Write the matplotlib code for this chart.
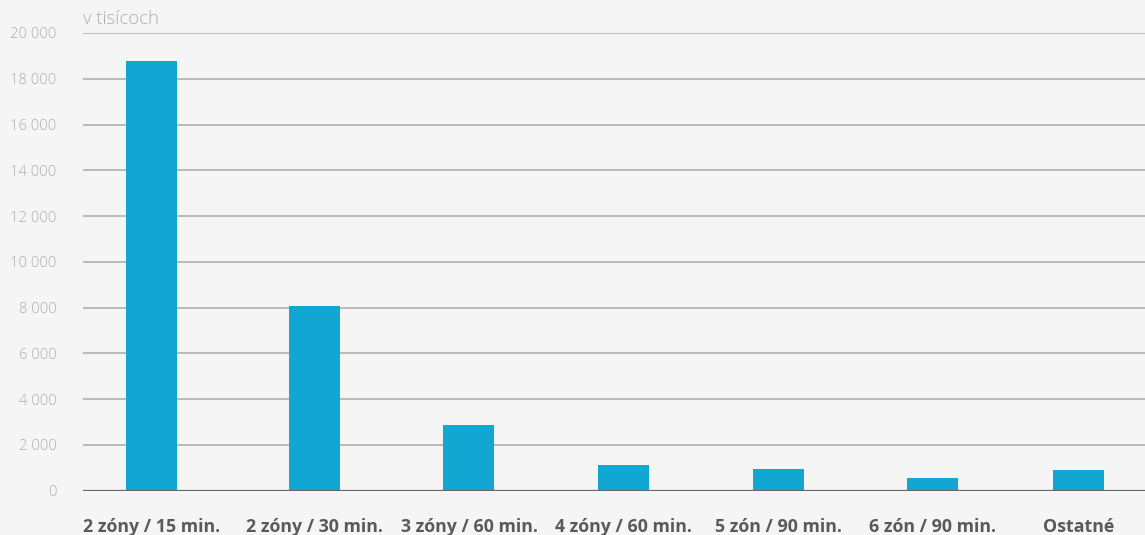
import matplotlib
matplotlib.use("Agg")
import matplotlib.pyplot as plt

categories = ["2 zóny / 15 min.", "2 zóny / 30 min.", "3 zóny / 60 min.",
              "4 zóny / 60 min.", "5 zón / 90 min.", "6 zón / 90 min.", "Ostatné"]
values = [18760, 8060, 2870, 1120, 950, 560, 910]
yticks = [0, 2000, 4000, 6000, 8000, 10000, 12000, 14000, 16000, 18000, 20000]
ytick_labels = ["0", "2 000", "4 000", "6 000", "8 000", "10 000", "12 000",
                "14 000", "16 000", "18 000", "20 000"]
unit_label = "v tisícoch"

# layout: slot positions of the categories along the x axis
slots = [0, 1.055, 2.055, 3.057, 4.055, 5.052, 6.0]

BG = "#f4f5f4"
BAR = "#12a7d2"

plt.rcParams['font.family'] = ['Open Sans', 'DejaVu Sans']

fig = plt.figure(figsize=(11.45, 5.35), dpi=100, facecolor=BG)
ax = fig.add_axes([83/1145, 1 - 490.7/535, 1 - 83/1145, (490.7 - 33)/535])
ax.set_facecolor(BG)

ax.bar(slots, values, width=0.33, color=BAR, zorder=3)

ax.set_xlim(-0.443, 6.43)
ax.set_ylim(0, 20000)
ax.set_yticks(yticks)
ax.set_yticklabels(ytick_labels, fontweight='light')
for t in yticks[1:]:
    ax.axhline(t, color="#b0b0b0", lw=1.2, zorder=1)
ax.axhline(0, color="#666666", lw=1.6, zorder=4)

for s in ax.spines.values():
    s.set_visible(False)
ax.tick_params(axis='y', length=0, pad=19, labelsize=10.6, labelcolor="#adadad")
ax.tick_params(axis='x', length=0, pad=20, labelsize=12.8, labelcolor="#5a5a5a")
ax.set_xticks(slots)
ax.set_xticklabels(categories, fontweight='bold')

fig.text(83/1145, 1 - 19/535, unit_label, fontsize=13.3, color="#adadad",
         fontweight='light', ha='left', va='center')

fig.savefig("out.png", dpi=100, facecolor=BG)
